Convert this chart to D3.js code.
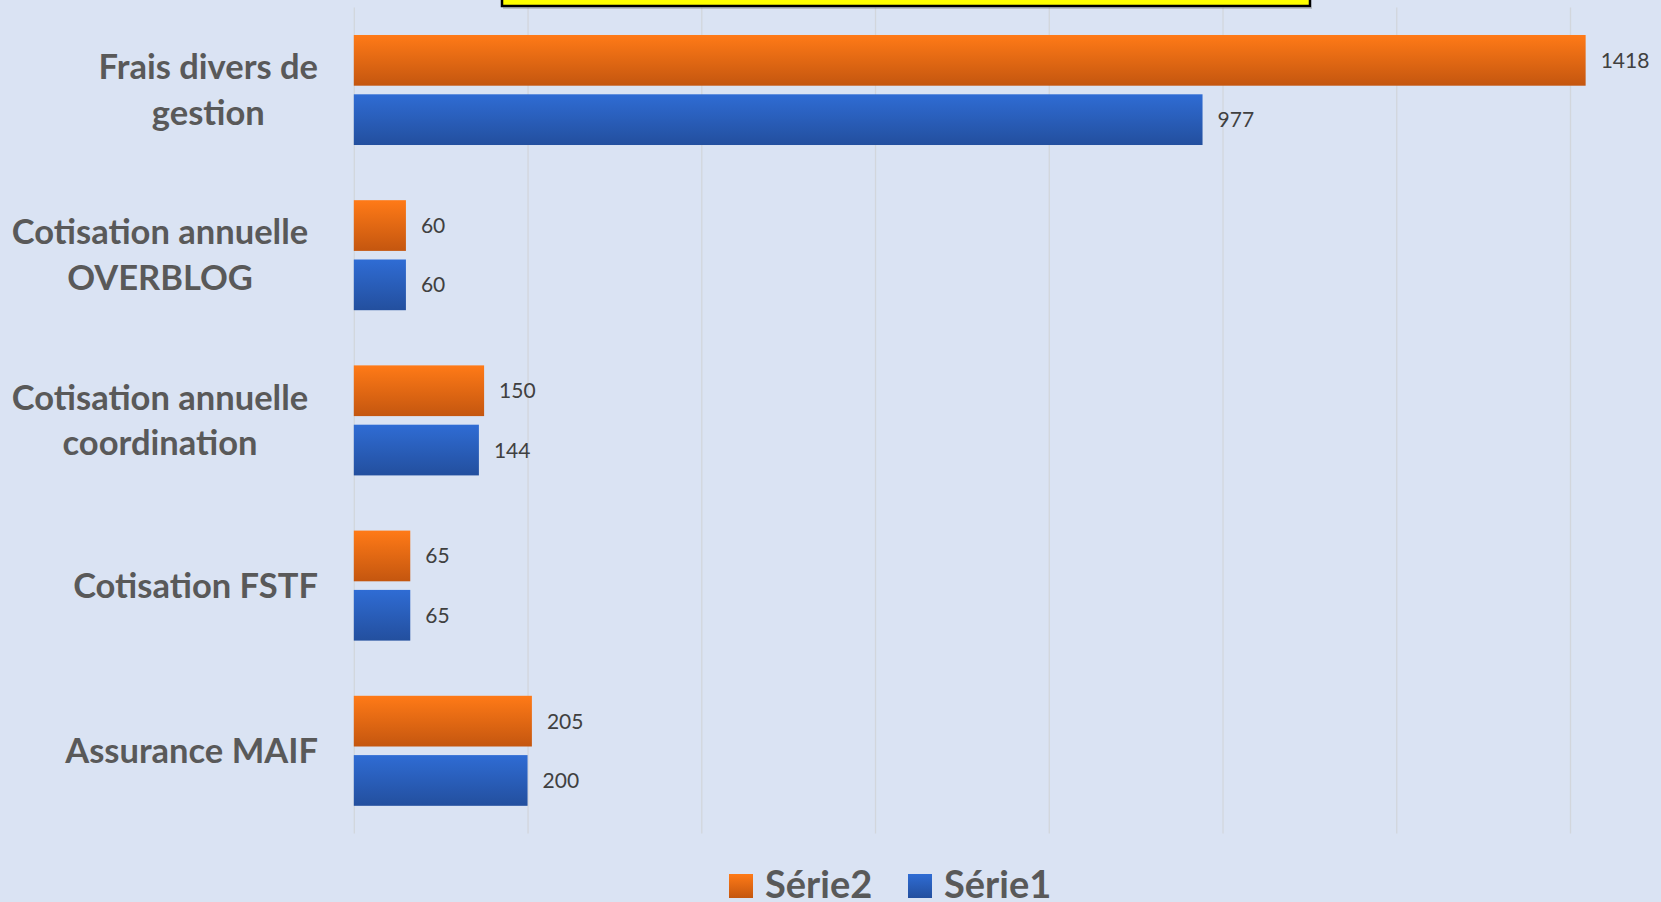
<!DOCTYPE html>
<html>
<head>
<meta charset="utf-8">
<script src="https://cdn.jsdelivr.net/npm/d3@7"></script>
<style>
  html, body { margin: 0; padding: 0; background: #dae3f3; overflow: hidden; }
  svg { display: block; }
</style>
</head>
<body>
<div id="chart"><svg></svg></div>
<script>
// chart data
var categories = [
  "Frais divers de\ngestion",
  "Cotisation annuelle\nOVERBLOG",
  "Cotisation annuelle\ncoordination",
  "Cotisation FSTF",
  "Assurance MAIF"
];
var seriesNames = ["Série2", "Série1"];
var serie2 = [1418, 60, 150, 65, 205];
var serie1 = [977, 60, 144, 65, 200];
var xTicks = [0, 200, 400, 600, 800, 1000, 1200, 1400];

var W = 1661, H = 902;
var plotLeft = 353.8, plotRight = 1570, plotTop = 7.4, plotBottom = 833.4;
var labelRight = 318, labelCenter = 160;

var svg = d3.select("#chart > svg").attr("width", W).attr("height", H);

svg.append("rect").attr("width", W).attr("height", H).attr("fill", "#dae3f3");

var defs = svg.append("defs");
var grads = [
  { id: "gOrange", c0: "#ff7a17", c1: "#c4560f" },
  { id: "gBlue", c0: "#2f6cd4", c1: "#234f9e" }
];
grads.forEach(function(g) {
  var lg = defs.append("linearGradient").attr("id", g.id)
    .attr("x1", 0).attr("y1", 0).attr("x2", 0).attr("y2", 1);
  lg.append("stop").attr("offset", "0%").attr("stop-color", g.c0);
  lg.append("stop").attr("offset", "100%").attr("stop-color", g.c1);
});
var fills = { "Série2": "url(#gOrange)", "Série1": "url(#gBlue)" };

var x = d3.scaleLinear().domain([0, 1400]).range([plotLeft, plotRight]);

var y = d3.scaleBand().domain(categories).range([plotTop, plotBottom])
  .paddingInner(0.334).paddingOuter(0.167);

var ySub = d3.scaleBand().domain(seriesNames).range([0, y.bandwidth()])
  .paddingInner(0.145).paddingOuter(0);

// gridlines
var grid = svg.append("g")
  .attr("transform", "translate(0," + plotBottom + ")")
  .call(d3.axisBottom(x).tickValues(xTicks).tickSize(-(plotBottom - plotTop)).tickFormat(""));
grid.select(".domain").remove();
grid.selectAll("line").attr("stroke", "#d2d6dc").attr("stroke-width", 1.3);

// title box (cut off at top)
svg.append("rect")
  .attr("x", 502).attr("y", -40).attr("width", 808).attr("height", 46)
  .attr("fill", "#ffff00").attr("stroke", "#000").attr("stroke-width", 2.5);
svg.append("line")
  .attr("x1", 503).attr("x2", 1312).attr("y1", 8).attr("y2", 8)
  .attr("stroke", "#6b6b6b").attr("stroke-width", 1.2).attr("opacity", 0.6);

// bars
var rows = categories.map(function(c, i) {
  return { cat: c, values: [
    { name: "Série2", value: serie2[i] },
    { name: "Série1", value: serie1[i] }
  ] };
});

var groups = svg.selectAll("g.row").data(rows).enter().append("g")
  .attr("class", "row")
  .attr("transform", function(d) { return "translate(0," + y(d.cat) + ")"; });

groups.selectAll("rect").data(function(d) { return d.values; }).enter().append("rect")
  .attr("x", x(0))
  .attr("y", function(d) { return ySub(d.name); })
  .attr("height", ySub.bandwidth())
  .attr("width", function(d) { return x(d.value) - x(0); })
  .attr("fill", function(d) { return fills[d.name]; });

groups.selectAll("text").data(function(d) { return d.values; }).enter().append("text")
  .attr("x", function(d) { return x(d.value) + 15; })
  .attr("y", function(d) { return ySub(d.name) + ySub.bandwidth() / 2; })
  .attr("dy", "0.36em")
  .attr("font-family", "Lato, 'Open Sans', sans-serif")
  .attr("font-size", 21)
  .attr("fill", "#404040")
  .text(function(d) { return d.value; });

// category axis
var yAxis = svg.append("g")
  .attr("transform", "translate(" + labelRight + ",0)")
  .call(d3.axisLeft(y).tickSize(0).tickPadding(0));
yAxis.select(".domain").remove();
yAxis.selectAll("text")
  .attr("font-family", "Lato, 'Open Sans', sans-serif")
  .attr("font-weight", "bold")
  .attr("font-size", 34.5)
  .attr("fill", "#595959")
  .each(function(d) {
    var t = d3.select(this);
    var lines = d.split("\n");
    t.text(null).attr("dy", null);
    var spans = lines.map(function(l, i) {
      return t.append("tspan").attr("y", 0)
        .attr("dy", ((i - (lines.length - 1) / 2) * 45.5 + 12) + "px")
        .text(l);
    });
    var maxW = d3.max(spans, function(s) { return s.node().getComputedTextLength(); });
    // lines centred in their block; very wide blocks sit in the middle of the label area
    var cx = maxW > 280 ? labelCenter - labelRight : -maxW / 2;
    t.attr("text-anchor", "middle");
    spans.forEach(function(s) { s.attr("x", cx); });
  });

// legend
var legend = svg.append("g").attr("transform", "translate(729,898)");
var legX = [0, 179];
seriesNames.forEach(function(n, i) {
  var g = legend.append("g").attr("transform", "translate(" + legX[i] + ",0)");
  g.append("rect").attr("x", 0).attr("y", -24).attr("width", 24).attr("height", 24)
    .attr("fill", fills[n]);
  g.append("text").attr("x", 36).attr("y", 0)
    .attr("font-family", "Lato, 'Open Sans', sans-serif")
    .attr("font-weight", "bold").attr("font-size", 38)
    .attr("fill", "#595959")
    .text(n);
});
</script>
</body>
</html>
